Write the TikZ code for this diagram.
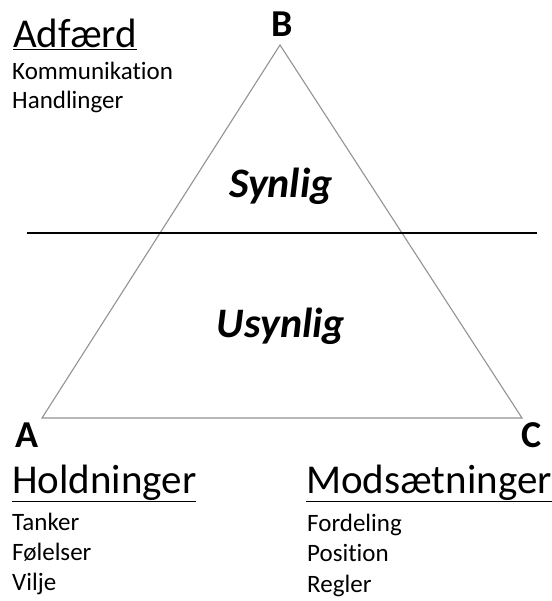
\documentclass[tikz,border=0pt]{standalone}
\usepackage{fontspec}
\setmainfont{Carlito}[Ligatures=NoCommon]
\begin{document}
\begin{tikzpicture}[x=1pt,y=-1pt,
  heading/.style={anchor=base west,inner sep=0pt,font=\fontsize{41}{41}\selectfont},
  item/.style={anchor=base west,inner sep=0pt,font=\fontsize{25}{25}\selectfont},
  corner/.style={anchor=base west,inner sep=0pt,font=\fontsize{38}{38}\selectfont\bfseries},
  zone/.style={inner sep=0pt,font=\fontsize{42}{42}\selectfont\bfseries\itshape}]
\useasboundingbox (0,0) rectangle (551,601);
\fill[white] (0,0) rectangle (551,601);

% triangle corners
\coordinate (pB) at (280,45);
\coordinate (pA) at (42,418);
\coordinate (pC) at (522,418);
\draw[gray!85,line width=1.1pt,line join=miter] (pA) -- (pB) -- (pC) -- cycle;

% dividing line between the visible and the invisible part
\coordinate (l1) at (27,233);
\coordinate (l2) at (537,233);
\draw[black,line width=1.1pt] (l1) -- (l2);

% corner letters
\node[corner,anchor=base] (B) at (282,37) {B};
\node[corner] (A) at (15,447) {A};
\node[corner] (C) at (521,447) {C};

% zone labels
\node[zone] (syn) at (281,186) {Synlig};
\node[zone] (usyn) at (281,326) {Usynlig};

% behaviour
\node[heading] (adf) at (13,48) {\underline{Adfærd}};
\node[item] (kom) at (12,80) {Kommunikation};
\node[item] (han) at (12,109) {Handlinger};

% attitudes
\node[heading] (hol) at (12,493) {\underline{Holdninger}};
\node[item] (tan) at (12,530) {Tanker};
\node[item] (fol) at (12,560) {Følelser};
\node[item] (vil) at (12,590) {Vilje};

% contradictions
\node[heading] (mod) at (306,493) {\underline{Modsætninger}};
\node[item] (for) at (307,531) {Fordeling};
\node[item] (pos) at (307,561) {Position};
\node[item] (reg) at (307,592) {Regler};
\end{tikzpicture}
\end{document}
